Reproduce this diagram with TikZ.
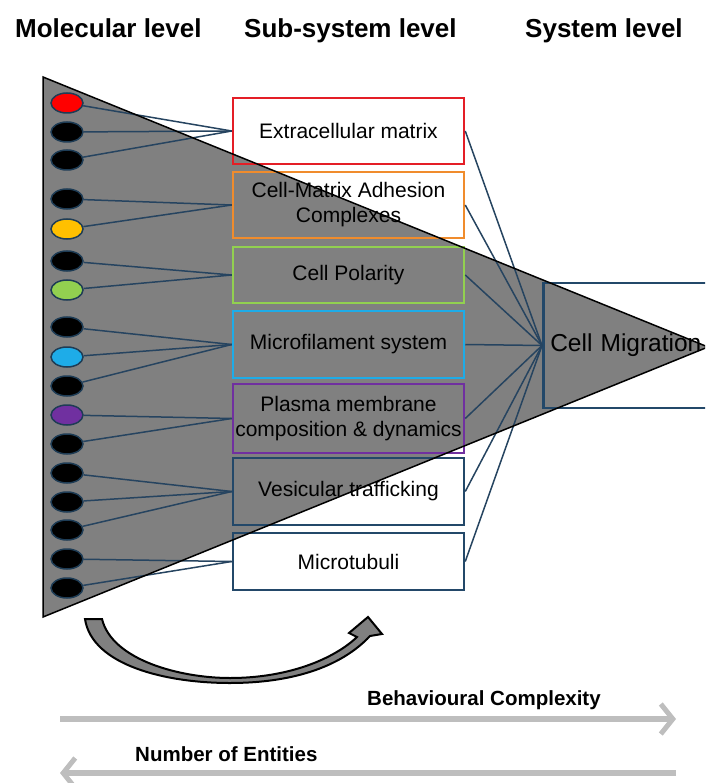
\documentclass[tikz,border=0pt]{standalone}
\usepackage{fontspec}
\setmainfont{Liberation Sans}
\usetikzlibrary{arrows.meta,shapes.geometric}
\definecolor{linecol}{RGB}{38,68,96}
\definecolor{ellcol}{RGB}{30,60,85}
\definecolor{tri}{RGB}{128,128,128}
\definecolor{cred}{RGB}{228,30,38}
\definecolor{corange}{RGB}{240,140,45}
\definecolor{cgreen}{RGB}{146,208,80}
\definecolor{ccyan}{RGB}{30,172,232}
\definecolor{cpurple}{RGB}{112,48,160}
\definecolor{cdblue}{RGB}{35,72,105}
\definecolor{cyellow}{RGB}{255,192,0}
\definecolor{arrgray}{RGB}{190,190,190}
\newcommand\bxfont{\fontsize{21}{25}\selectfont}
\newcommand\hdfont{\fontsize{26}{30}\selectfont\bfseries}
\newcommand\ftfont{\fontsize{20.5}{24}\selectfont\bfseries}
\begin{document}
\begin{tikzpicture}[x=1pt,y=-1pt,
  mol/.style={ellipse, minimum width=32pt, minimum height=20pt, inner sep=0pt, draw=ellcol, line width=1.5pt, fill=black},
  sub/.style={rectangle, draw, line width=2.5pt, minimum width=231pt, align=center, inner sep=0pt, font=\bxfont},
  link/.style={draw=linecol, line width=1.5pt},
  head/.style={font=\hdfont, anchor=base west, inner sep=0pt},
  foot/.style={font=\ftfont, anchor=base west, inner sep=0pt},
  bigarrow/.style={draw=arrgray, line width=6pt, -{Straight Barb[length=12pt,width=30pt,line width=5pt]}},
]
\useasboundingbox (0,0) rectangle (705,783);
\clip (0,0) rectangle (705,783);

% triangle fill
\fill[tri] (43,77) -- (708,347) -- (43,617) -- cycle;

% headers
\node[head] (h1) at (15,38) {Molecular level};
\node[head] (h2) at (244,38) {Sub-system level};
\node[head] (h3) at (525,38) {System level};

% molecules
\node[mol, fill=red]     (e1)  at (67,103) {};
\node[mol]               (e2)  at (67,132) {};
\node[mol]               (e3)  at (67,160) {};
\node[mol]               (e4)  at (67,199) {};
\node[mol, fill=cyellow] (e5)  at (67,229) {};
\node[mol]               (e6)  at (67,261) {};
\node[mol, fill=cgreen]  (e7)  at (67,290) {};
\node[mol]               (e8)  at (67,327) {};
\node[mol, fill=ccyan]   (e9)  at (67,357) {};
\node[mol]               (e10) at (67,386) {};
\node[mol, fill=cpurple] (e11) at (67,415) {};
\node[mol]               (e12) at (67,444) {};
\node[mol]               (e13) at (67,473) {};
\node[mol]               (e14) at (67,502) {};
\node[mol]               (e15) at (67,530) {};
\node[mol]               (e16) at (67,559) {};
\node[mol]               (e17) at (67,588) {};

% sub-system boxes
\node[sub, draw=cred,    minimum height=66pt] (b1) at (348.5,131)   {Extracellular matrix};
\node[sub, draw=corange, minimum height=66pt] (b2) at (348.5,205)   {Cell-Matrix Adhesion\\Complexes};
\node[sub, draw=cgreen,  minimum height=56pt] (b3) at (348.5,275)   {Cell Polarity};
\node[sub, draw=ccyan,   minimum height=67pt] (b4) at (348.5,344.5) {Microfilament system};
\node[sub, draw=cpurple, minimum height=69pt] (b5) at (348.5,418.5) {Plasma membrane\\composition \& dynamics};
\node[sub, draw=cdblue,  minimum height=67pt] (b6) at (348.5,491.5) {Vesicular trafficking};
\node[sub, draw=cdblue,  minimum height=57pt] (b7) at (348.5,561.5) {Microtubuli};

% system box
\node[rectangle, draw=cdblue, line width=2.5pt, anchor=west, minimum height=125pt,
      text width=200pt, align=left, inner xsep=7pt, inner ysep=0pt,
      font=\fontsize{24.5}{29}\selectfont] (cm) at (542,345.5) {Cell Migration};

% links molecules -> boxes
\draw[link] (e1) -- (b1.west); \draw[link] (e2) -- (b1.west); \draw[link] (e3) -- (b1.west);
\draw[link] (e4) -- (b2.west); \draw[link] (e5) -- (b2.west);
\draw[link] (e6) -- (b3.west); \draw[link] (e7) -- (b3.west);
\draw[link] (e8) -- (b4.west); \draw[link] (e9) -- (b4.west); \draw[link] (e10) -- (b4.west);
\draw[link] (e11) -- (b5.west); \draw[link] (e12) -- (b5.west);
\draw[link] (e13) -- (b6.west); \draw[link] (e14) -- (b6.west); \draw[link] (e15) -- (b6.west);
\draw[link] (e16) -- (b7.west); \draw[link] (e17) -- (b7.west);

% links boxes -> system
\foreach \b in {b1,b2,b3,b4,b5,b6,b7} \draw[link] (\b.east) -- (cm.west);

% triangle outline
\draw[black, line width=1.5pt, line join=miter] (43,77) -- (708,347) -- (43,617) -- cycle;

% curved arrow
\draw[black, line width=2pt, fill=tri, line join=miter]
  (85,619) -- (102,619)
  .. controls (112,660) and (180,678) .. (230,678)
  .. controls (290,678) and (335,658) .. (357,637)
  -- (349,633) -- (368,617) -- (382,634) -- (370,636)
  .. controls (340,668) and (290,683) .. (230,683)
  .. controls (165,683) and (92,665) .. (85,619) -- cycle;

% bottom axes
\coordinate (a1s) at (60,719);
\coordinate (a1e) at (676,719);
\coordinate (a2s) at (676,773);
\coordinate (a2e) at (60,773);
\draw[bigarrow] (a1s) -- (a1e);
\draw[bigarrow] (a2s) -- (a2e);
\node[foot] (t1) at (367,705) {Behavioural Complexity};
\node[foot] (t2) at (135,761) {Number of Entities};
\end{tikzpicture}
\end{document}
